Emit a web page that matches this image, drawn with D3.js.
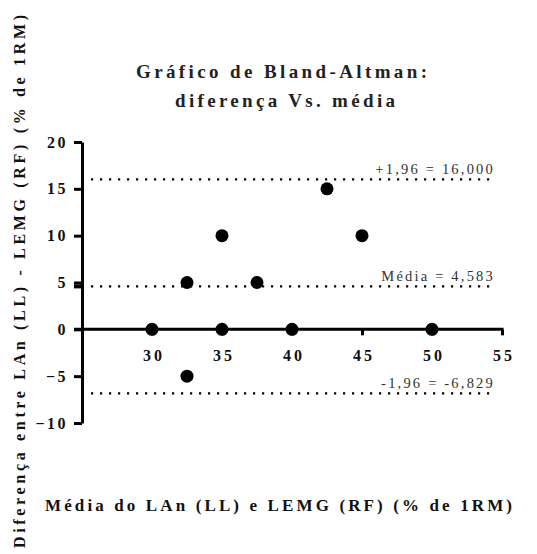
<!DOCTYPE html>
<html>
<head>
<meta charset="utf-8">
<script src="https://cdn.jsdelivr.net/npm/d3@7"></script>
<style>
  body { margin: 0; background: #fff; }
</style>
</head>
<body>
<svg id="chart"></svg>
<script>
const WIDTH = 537;
const HEIGHT = 554;
const SERIF = '"Liberation Serif", "Times New Roman", serif';

// data
const meanValues = [30, 32.5, 32.5, 35, 35, 37.5, 40, 42.5, 45, 50];
const diffValues = [0, 5, -5, 10, 0, 5, 0, 15, 10, 0];
const xTicks = [30, 35, 40, 45, 50, 55];
const yTicks = [-10, -5, 0, 5, 10, 15, 20];
const limitValues = [16.0, 4.583, -6.829];
const limitLabels = ['+1,96 = 16,000', 'Média = 4,583', '-1,96 = -6,829'];
const titleLines = ['Gráfico de Bland-Altman:', 'diferença Vs. média'];
const xTitle = 'Média do LAn (LL) e LEMG (RF) (% de 1RM)';
const yTitle = 'Diferença entre LAn (LL) - LEMG (RF) (% de 1RM)';

const points = meanValues.map((m, i) => ({ x: m, y: diffValues[i] }));

const svg = d3.select('#chart').attr('width', WIDTH).attr('height', HEIGHT);

const xScale = d3.scaleLinear().domain([25, 55]).range([82, 502]);
const yScale = d3.scaleLinear().domain([-10, 20]).range([423, 142]);

// title
svg.selectAll('.title')
    .data(titleLines)
    .join('text')
    .attr('class', 'title')
    .attr('x', (d, i) => i === 0 ? 136 : 175)
    .attr('y', (d, i) => 78 + i * 29)
    .attr('textLength', (d, i) => i === 0 ? 291 : 220)
    .attr('lengthAdjust', 'spacing')
    .style('font-family', SERIF)
    .style('font-size', '19px')
    .style('font-weight', 'bold')
    .attr('fill', '#222')
    .text(d => d);

// limit lines (dotted)
svg.selectAll('.limit')
    .data(limitValues)
    .join('line')
    .attr('class', 'limit')
    .attr('x1', 91)
    .attr('x2', 496)
    .attr('y1', d => yScale(d))
    .attr('y2', d => yScale(d))
    .attr('stroke', '#000')
    .attr('stroke-width', 2.2)
    .attr('stroke-dasharray', '2.2,6.8');

svg.selectAll('.limit-label')
    .data(limitLabels)
    .join('text')
    .attr('class', 'limit-label')
    .attr('x', 495)
    .attr('y', (d, i) => yScale(limitValues[i]) - 5)
    .attr('text-anchor', 'end')
    .style('font-family', SERIF)
    .style('font-size', '14.5px')
    .style('letter-spacing', '2.2px')
    .attr('fill', '#333')
    .text(d => d);

// y axis
const yAxis = svg.append('g')
    .attr('transform', `translate(${xScale(25)},0)`)
    .call(d3.axisLeft(yScale).tickValues(yTicks).tickSize(8).tickSizeOuter(0).tickPadding(6));
yAxis.select('.domain').attr('stroke-width', 3);
yAxis.selectAll('.tick line').attr('stroke-width', 3);
yAxis.selectAll('.tick text')
    .style('font-family', SERIF)
    .style('font-size', '16px')
    .style('font-weight', 'bold')
    .style('letter-spacing', '2.5px')
    .attr('fill', '#111');

// small mark of the mean on the y axis
yAxis.append('line')
    .attr('x1', -8)
    .attr('x2', 0)
    .attr('y1', yScale(limitValues[1]))
    .attr('y2', yScale(limitValues[1]))
    .attr('stroke', '#000')
    .attr('stroke-width', 4);

// x axis at zero
const xAxis = svg.append('g')
    .attr('transform', `translate(0,${yScale(0)})`)
    .call(d3.axisBottom(xScale).tickValues(xTicks).tickSize(6).tickSizeOuter(0).tickPadding(14));
xAxis.select('.domain').attr('stroke-width', 3).attr('d', `M${xScale(25) - 8},0H${xScale(55) + 1.5}`);
xAxis.selectAll('.tick line').attr('stroke-width', 3);
xAxis.selectAll('.tick text')
    .style('font-family', SERIF)
    .style('font-size', '16px')
    .style('font-weight', 'bold')
    .style('letter-spacing', '3px')
    .attr('dx', 1.5)
    .attr('fill', '#111');

// points
svg.selectAll('.pt')
    .data(points)
    .join('circle')
    .attr('class', 'pt')
    .attr('cx', d => xScale(d.x))
    .attr('cy', d => yScale(d.y))
    .attr('r', 6.5)
    .attr('fill', '#000');

// axis titles
svg.append('text')
    .attr('x', 45)
    .attr('y', 511)
    .attr('textLength', 467)
    .attr('lengthAdjust', 'spacing')
    .style('font-family', SERIF)
    .style('font-size', '17px')
    .style('font-weight', 'bold')
    .attr('fill', '#111')
    .text(xTitle);

svg.append('text')
    .attr('transform', 'translate(25,548) rotate(-90)')
    .attr('textLength', 533)
    .attr('lengthAdjust', 'spacing')
    .style('font-family', SERIF)
    .style('font-size', '16px')
    .style('font-weight', 'bold')
    .attr('fill', '#111')
    .text(yTitle);
</script>
</body>
</html>
